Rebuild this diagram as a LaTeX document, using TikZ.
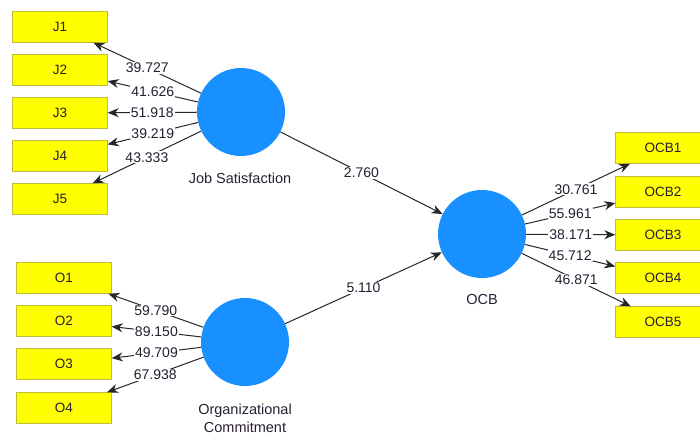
\documentclass[tikz,border=0pt]{standalone}
\usepackage{fontspec}
\setmainfont{Liberation Sans}
\usepackage{tikz}
\usetikzlibrary{arrows.meta, positioning}

\definecolor{itemyellow}{RGB}{255,255,0}
\definecolor{itemborder}{RGB}{190,190,60}
\definecolor{latentblue}{RGB}{24,144,255}
\definecolor{textdark}{RGB}{40,30,50}

\tikzset{
    item/.style={draw=itemborder, fill=itemyellow, minimum width=95pt, minimum height=31pt, inner sep=0pt, font=\fontsize{13.5}{15}\selectfont, text=textdark},
    latent/.style={circle, fill=latentblue, minimum size=88pt, inner sep=0pt},
    latentname/.style={font=\fontsize{14.5}{18}\selectfont, text=textdark, align=center},
    load/.style={draw=black!85, line width=1pt, -{Stealth[length=11pt, width=9pt]}},
    coef/.style={fill=white, inner sep=1pt, font=\fontsize{14}{15}\selectfont, text=textdark}
}

\begin{document}
\begin{tikzpicture}[x=1pt, y=-1pt]
    \useasboundingbox (0, 0) rectangle (700, 436);

    % Latent variables
    \node[latent] (js) at (241, 112) {};
    \node[latent] (oc) at (245, 342) {};
    \node[latent] (ocb) at (482, 234) {};

    % Latent names
    \node[latentname] (jsname) at (240, 178) {Job Satisfaction};
    \node[latentname] (ocname) at (245, 418) {Organizational\\Commitment};
    \node[latentname] (ocbname) at (482, 300) {OCB};

    % Indicators
    \node[item] (j1) at (60, 27) {J1};
    \node[item] (j2) at (60, 70) {J2};
    \node[item] (j3) at (60, 113) {J3};
    \node[item] (j4) at (60, 156) {J4};
    \node[item] (j5) at (60, 199) {J5};

    \node[item] (o1) at (64, 278) {O1};
    \node[item] (o2) at (64, 321) {O2};
    \node[item] (o3) at (64, 364) {O3};
    \node[item] (o4) at (64, 408) {O4};

    \node[item] (ocb1) at (663, 148) {OCB1};
    \node[item] (ocb2) at (663, 192) {OCB2};
    \node[item] (ocb3) at (663, 235) {OCB3};
    \node[item] (ocb4) at (663, 278) {OCB4};
    \node[item] (ocb5) at (663, 322) {OCB5};

    % Outer loadings
    \draw[load] (js) -- (j1) node[coef, midway] {39.727};
    \draw[load] (js) -- (j2) node[coef, midway] {41.626};
    \draw[load] (js) -- (j3) node[coef, midway] {51.918};
    \draw[load] (js) -- (j4) node[coef, midway] {39.219};
    \draw[load] (js) -- (j5) node[coef, midway] {43.333};

    \draw[load] (oc) -- (o1) node[coef, midway] {59.790};
    \draw[load] (oc) -- (o2) node[coef, midway] {89.150};
    \draw[load] (oc) -- (o3) node[coef, midway] {49.709};
    \draw[load] (oc) -- (o4) node[coef, midway] {67.938};

    \draw[load] (ocb) -- (ocb1) node[coef, midway] {30.761};
    \draw[load] (ocb) -- (ocb2) node[coef, midway] {55.961};
    \draw[load] (ocb) -- (ocb3) node[coef, midway] {38.171};
    \draw[load] (ocb) -- (ocb4) node[coef, midway] {45.712};
    \draw[load] (ocb) -- (ocb5) node[coef, midway] {46.871};

    % Paths
    \draw[load] (js) -- (ocb) node[coef, midway] {2.760};
    \draw[load] (oc) -- (ocb) node[coef, midway] {5.110};

\end{tikzpicture}
\end{document}
